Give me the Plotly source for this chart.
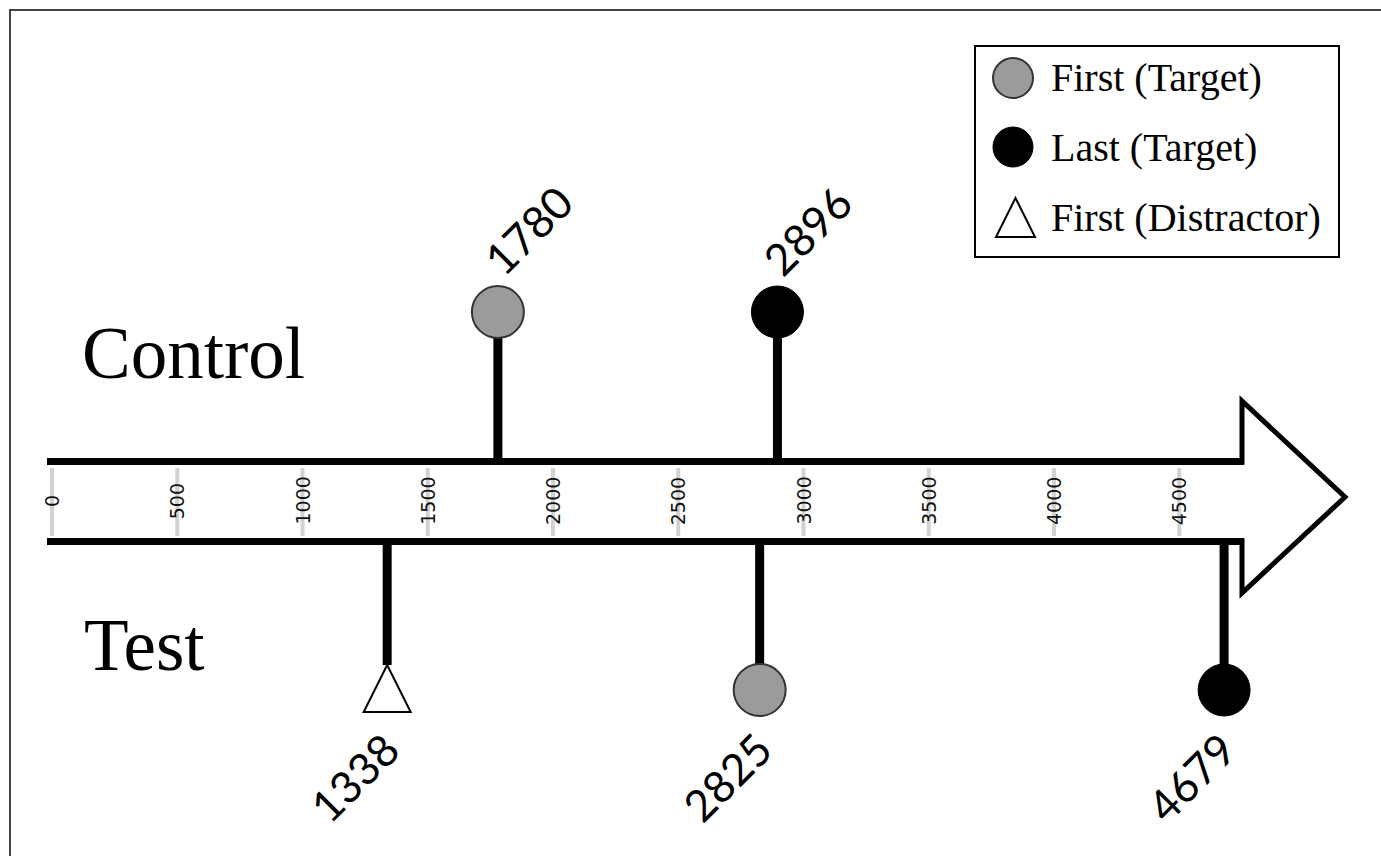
import plotly.graph_objects as go

# ---------------- data ----------------
series_names = ["First (Target)", "Last (Target)", "First (Distractor)"]
group_names = ["Control", "Test"]
control_first_target = [1780]
control_last_target = [2896]
test_first_distractor = [1338]
test_first_target = [2825]
test_last_target = [4679]
tick_values = [0, 500, 1000, 1500, 2000, 2500, 3000, 3500, 4000, 4500]
tick_labels = ["0", "500", "1000", "1500", "2000", "2500", "3000", "3500", "4000", "4500"]

# ---------------- layout constants (pixels) ----------------
W, H = 1381, 856
X0_PX = 52.0          # pixel of time 0
PX_PER_MS = 0.2505    # pixels per ms
Y_TOP_LINE = 461.5
Y_BOT_LINE = 541.5
Y_CTRL_MARK = 312
Y_TEST_MARK = 690
Y_TRI_APEX = 665
GRAY = "#9b9b9b"


def px(p):
    return p / W


def py(p):
    return 1 - p / H


x_range = [(0 - X0_PX) / PX_PER_MS, (W - X0_PX) / PX_PER_MS]

fig = go.Figure()

# stems
def stem(xs, y0, y1):
    for v in xs:
        fig.add_trace(go.Scatter(x=[v, v], y=[y0, y1], mode="lines",
                                 line=dict(color="black", width=9),
                                 showlegend=False, hoverinfo="skip"))

stem(control_first_target, Y_TOP_LINE, Y_CTRL_MARK)
stem(control_last_target, Y_TOP_LINE, Y_CTRL_MARK)
stem(test_first_distractor, Y_BOT_LINE, Y_TRI_APEX)
stem(test_first_target, Y_BOT_LINE, Y_TEST_MARK)
stem(test_last_target, Y_BOT_LINE, Y_TEST_MARK)

# markers
fig.add_trace(go.Scatter(x=control_first_target + test_first_target,
                         y=[Y_CTRL_MARK] * len(control_first_target) + [Y_TEST_MARK] * len(test_first_target),
                         mode="markers", name=series_names[0], showlegend=False,
                         marker=dict(symbol="circle", size=52, color=GRAY,
                                     line=dict(color="#333333", width=2))))
fig.add_trace(go.Scatter(x=control_last_target + test_last_target,
                         y=[Y_CTRL_MARK] * len(control_last_target) + [Y_TEST_MARK] * len(test_last_target),
                         mode="markers", name=series_names[1], showlegend=False,
                         marker=dict(symbol="circle", size=52, color="black",
                                     line=dict(color="black", width=1))))
fig.add_trace(go.Scatter(x=test_first_distractor, y=[Y_TRI_APEX] * len(test_first_distractor),
                         mode="markers", name=series_names[2], showlegend=False,
                         marker=dict(symbol="arrow-up", size=47, color="white",
                                     line=dict(color="black", width=2))))

annotations = []
shapes = []

# value labels
LABEL_FONT = dict(family="Lato, Noto Sans, sans-serif", size=44, color="black")
for v in control_first_target + control_last_target:
    annotations.append(dict(x=v, y=230, xref="x", yref="y", text=str(v), showarrow=False,
                            textangle=-45, font=LABEL_FONT, xanchor="center", yanchor="middle",
                            xshift=30))
for v in test_first_distractor + test_first_target + test_last_target:
    annotations.append(dict(x=v, y=777, xref="x", yref="y", text=str(v), showarrow=False,
                            textangle=-45, font=LABEL_FONT, xanchor="center", yanchor="middle",
                            xshift=-33))

# axis ticks (gray bars) and labels inside the arrow shaft
for v, lab in zip(tick_values, tick_labels):
    shapes.append(dict(type="line", xref="x", yref="y", x0=v, x1=v, y0=468, y1=536,
                       line=dict(color="#d2d2d2", width=4), layer="below"))
    annotations.append(dict(x=v, y=501, xref="x", yref="y", text=lab, showarrow=False,
                            textangle=-90, font=dict(family="DejaVu Sans", size=19, color="#111111"),
                            xanchor="center", yanchor="middle"))

# arrow shaft lines
shapes.append(dict(type="line", xref="paper", yref="paper", x0=px(47), x1=px(1244),
                   y0=py(Y_TOP_LINE), y1=py(Y_TOP_LINE), line=dict(color="black", width=7)))
shapes.append(dict(type="line", xref="paper", yref="paper", x0=px(47), x1=px(1244),
                   y0=py(Y_BOT_LINE), y1=py(Y_BOT_LINE), line=dict(color="black", width=7)))
# arrow head
head = "M {},{} L {},{} L {},{} L {},{} L {},{}".format(
    px(1242), py(Y_TOP_LINE + 3), px(1242), py(401), px(1345), py(497),
    px(1242), py(593), px(1242), py(Y_BOT_LINE - 3))
shapes.append(dict(type="path", xref="paper", yref="paper", path=head,
                   line=dict(color="black", width=5)))

# outer frame
shapes.append(dict(type="rect", xref="paper", yref="paper", x0=px(10), x1=px(1395),
                   y0=py(10), y1=py(870), line=dict(color="#444444", width=2)))

# group labels
SERIF = "Liberation Serif, Times New Roman, serif"
annotations.append(dict(x=px(80), y=py(354), xref="paper", yref="paper", text=group_names[0],
                        showarrow=False, xanchor="left", yanchor="middle",
                        font=dict(family=SERIF, size=73, color="black")))
annotations.append(dict(x=px(82), y=py(645), xref="paper", yref="paper", text=group_names[1],
                        showarrow=False, xanchor="left", yanchor="middle",
                        font=dict(family=SERIF, size=73, color="black")))

# legend box
shapes.append(dict(type="rect", xref="paper", yref="paper", x0=px(975), x1=px(1339),
                   y0=py(46), y1=py(257), line=dict(color="black", width=2), fillcolor="white"))
leg_y = [78, 147, 217]
shapes.append(dict(type="circle", xref="paper", yref="paper", x0=px(993), x1=px(1033),
                   y0=py(leg_y[0] - 20), y1=py(leg_y[0] + 20), fillcolor=GRAY,
                   line=dict(color="#333333", width=2)))
shapes.append(dict(type="circle", xref="paper", yref="paper", x0=px(993), x1=px(1033),
                   y0=py(leg_y[1] - 20), y1=py(leg_y[1] + 20), fillcolor="black",
                   line=dict(color="black", width=1)))
tri = "M {},{} L {},{} L {},{} Z".format(px(996), py(237), px(1035), py(237), px(1015.5), py(198))
shapes.append(dict(type="path", xref="paper", yref="paper", path=tri, fillcolor="white",
                   line=dict(color="black", width=2)))
for name, yy in zip(series_names, leg_y):
    annotations.append(dict(x=px(1049), y=py(yy), xref="paper", yref="paper", text=name,
                            showarrow=False, xanchor="left", yanchor="middle",
                            font=dict(family=SERIF, size=40, color="black")))

fig.update_layout(
    width=W, height=H,
    margin=dict(l=0, r=0, t=0, b=0),
    paper_bgcolor="white", plot_bgcolor="white",
    xaxis=dict(range=x_range, visible=False, fixedrange=True),
    yaxis=dict(range=[H, 0], visible=False, fixedrange=True),
    shapes=shapes, annotations=annotations,
    showlegend=False,
)

fig.write_html("out.html", config={"displayModeBar": False},
               post_script="document.body.style.margin='0';")
